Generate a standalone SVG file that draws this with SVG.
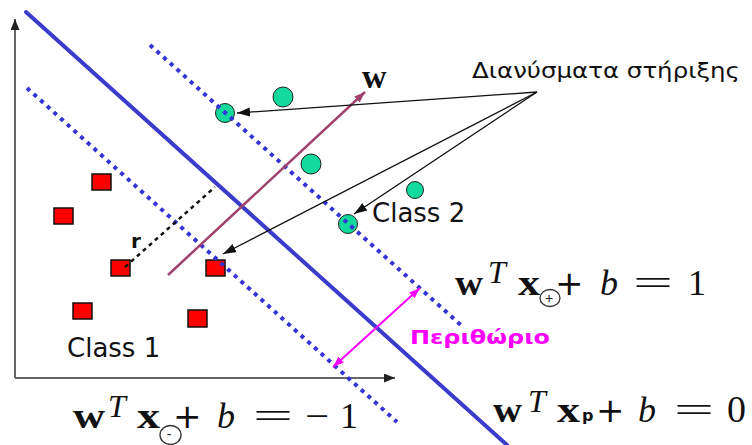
<svg xmlns="http://www.w3.org/2000/svg" width="752" height="445" viewBox="0 0 752 445">
<style>
.eq{font-family:"Liberation Serif","DejaVu Serif",serif;font-size:36px;fill:#111}
.bf{font-weight:bold}
.it{font-style:italic}
.pl{font-family:"DejaVu Sans","Liberation Sans",sans-serif;font-size:34px;fill:#111}
.lbl{font-family:"DejaVu Sans","Liberation Sans",sans-serif;font-size:26px;fill:#111}
.sv{fill:#12d99c;stroke:#222;stroke-width:1}
.sq{fill:#ff0000;stroke:#111;stroke-width:1.5}
.dot{fill:none;stroke:#3434d6;stroke-width:4;stroke-dasharray:4 5}
.call{fill:none;stroke:#111;stroke-width:1.3}
.circ{fill:none;stroke:#333;stroke-width:1.3}
.small{font-family:"Liberation Sans","DejaVu Sans",sans-serif;font-size:14px;fill:#222;text-anchor:middle}
</style>
<defs>
<marker id="ah" markerUnits="userSpaceOnUse" markerWidth="14" markerHeight="10" refX="13" refY="4.5" orient="auto"><path d="M0,0 L13,4.5 L0,9 z" fill="#111"/></marker>
<marker id="ax" markerUnits="userSpaceOnUse" markerWidth="12" markerHeight="10" refX="11" refY="4.5" orient="auto"><path d="M0,0 L11,4.5 L0,9 z" fill="#222"/></marker>
<marker id="am" markerUnits="userSpaceOnUse" markerWidth="12" markerHeight="10" refX="11" refY="4" orient="auto-start-reverse"><path d="M0,0 L11,4 L0,8 z" fill="#ff00ff"/></marker>
<marker id="ap" markerUnits="userSpaceOnUse" markerWidth="12" markerHeight="10" refX="11" refY="4" orient="auto"><path d="M0,0 L11,4 L0,8 z" fill="#a0426e"/></marker>
</defs>
<rect width="752" height="445" fill="#fff"/>

<g id="axes">
<line x1="15" y1="378" x2="15" y2="19" stroke="#666" stroke-width="2" marker-end="url(#ax)"/>
<line x1="15" y1="378" x2="395" y2="378" stroke="#666" stroke-width="2" marker-end="url(#ax)"/>
</g>

<g id="class1">
<rect class="sq" x="92" y="174" width="19" height="16"/>
<rect class="sq" x="54" y="208" width="19" height="16"/>
<rect class="sq" x="111" y="260" width="19" height="16"/>
<rect class="sq" x="206" y="260" width="19" height="16"/>
<rect class="sq" x="73" y="303" width="19" height="16"/>
<rect class="sq" x="188" y="310" width="19" height="17"/>
</g>

<g id="class2">
<circle class="sv" cx="283" cy="97" r="10"/>
<circle class="sv" cx="311" cy="164" r="10"/>
<circle class="sv" cx="415" cy="190" r="8.5"/>
<circle class="sv" cx="225" cy="113" r="9.5"/>
<circle class="sv" cx="348" cy="224" r="9.5"/>
</g>

<g id="hyperplanes">
<line class="dot" x1="150" y1="45" x2="463" y2="327"/>
<line class="dot" x1="27" y1="88" x2="397" y2="422"/>
<line x1="26" y1="12" x2="507" y2="445" stroke="#3b3bcc" stroke-width="4" stroke-linecap="round"/>
</g>

<g id="w-vector">
<line x1="168" y1="275" x2="365" y2="92" stroke="#a0426e" stroke-width="2.5" marker-end="url(#ap)"/>
<text x="362" y="88" class="eq bf" style="font-size:34px">w</text>
</g>

<g id="r-distance">
<line x1="125" y1="267" x2="215" y2="187" stroke="#111" stroke-width="2.5" stroke-dasharray="4 4"/>
<text x="131" y="248" style="font-family:'DejaVu Sans',sans-serif;font-weight:bold;font-size:20px;fill:#111">r</text>
</g>

<g id="connectors">
<line class="call" x1="537" y1="92" x2="237" y2="113" marker-end="url(#ah)"/>
<line class="call" x1="537" y1="92" x2="354" y2="214" marker-end="url(#ah)"/>
<line class="call" x1="537" y1="92" x2="223" y2="254" marker-end="url(#ah)"/>
<line x1="333" y1="367" x2="420" y2="288" stroke="#ff00ff" stroke-width="2" marker-start="url(#am)" marker-end="url(#am)"/>
</g>

<g id="labels">
<text class="lbl" x="67" y="357">Class 1</text>
<text class="lbl" x="372" y="222">Class 2</text>
<text x="472" y="78" textLength="268" lengthAdjust="spacingAndGlyphs" style="font-family:'DejaVu Sans',sans-serif;font-size:22px;fill:#111">Διανύσματα στήριξης</text>
<text x="410" y="344" textLength="140" lengthAdjust="spacingAndGlyphs" style="font-family:'DejaVu Sans',sans-serif;font-weight:bold;font-size:20px;fill:#ff00ff">Περιθώριο</text>
</g>

<g id="eq-plus">
<text class="eq bf" x="455" y="295" textLength="28" lengthAdjust="spacingAndGlyphs">w</text>
<text class="eq it" x="488" y="283" style="font-size:32px">T</text>
<text class="eq bf" x="518" y="295" textLength="22" lengthAdjust="spacingAndGlyphs">x</text>
<ellipse class="circ" cx="550" cy="298" rx="10" ry="8.5"/>
<text class="small" x="549" y="303">+</text>
<text class="pl" x="555" y="295">+</text>
<text class="eq it" x="600" y="295">b</text>
<text class="eq" x="633" y="295" textLength="40" lengthAdjust="spacingAndGlyphs">=</text>
<text class="eq" x="688" y="295">1</text>
</g>

<g id="eq-minus">
<text class="eq bf" x="73" y="428" textLength="32" lengthAdjust="spacingAndGlyphs">w</text>
<text class="eq it" x="108" y="417" style="font-size:32px">T</text>
<text class="eq bf" x="137" y="428" textLength="23" lengthAdjust="spacingAndGlyphs">x</text>
<ellipse class="circ" cx="170.5" cy="435" rx="10.5" ry="9.5"/>
<text class="small" x="169" y="439">-</text>
<text class="pl" x="173" y="428">+</text>
<text class="eq it" x="217" y="428">b</text>
<text class="eq" x="253" y="428" textLength="40" lengthAdjust="spacingAndGlyphs">=</text>
<text class="eq" x="305" y="428" textLength="24" lengthAdjust="spacingAndGlyphs">−</text>
<text class="eq" x="340" y="428">1</text>
</g>

<g id="eq-zero">
<text class="eq bf" x="493" y="422" textLength="29" lengthAdjust="spacingAndGlyphs">w</text>
<text class="eq it" x="528" y="412" style="font-size:32px">T</text>
<text class="eq bf" x="557" y="422" textLength="23" lengthAdjust="spacingAndGlyphs">x</text>
<text x="582" y="421" style="font-family:'DejaVu Sans',sans-serif;font-weight:bold;font-size:16px;fill:#111">p</text>
<text class="pl" x="596" y="422">+</text>
<text class="eq it" x="638" y="422">b</text>
<text class="eq" x="674" y="422" textLength="40" lengthAdjust="spacingAndGlyphs">=</text>
<text class="eq" x="727" y="422" style="font-size:38px">0</text>
</g>
</svg>
